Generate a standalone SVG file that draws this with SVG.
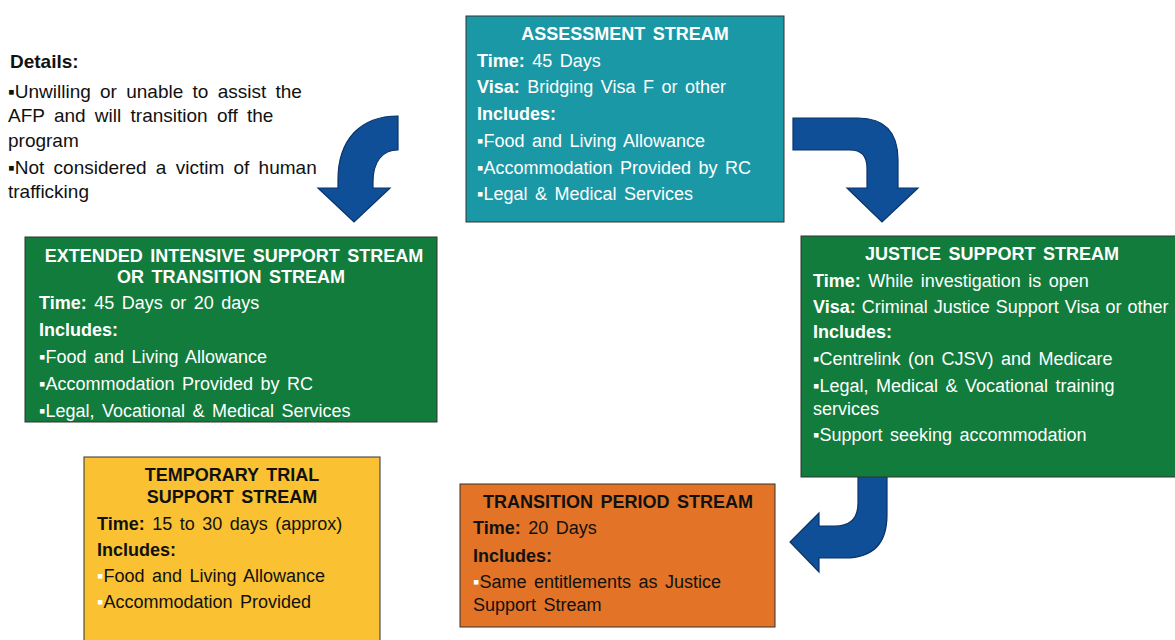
<svg xmlns="http://www.w3.org/2000/svg" width="1175" height="640" viewBox="0 0 1175 640">
<style>
text{font-family:"Liberation Sans",Arial,"DejaVu Sans",sans-serif;font-size:18px;word-spacing:2.5px}
.b{font-weight:bold}
.w{fill:#ffffff}
.k{fill:#111111}
.t{text-anchor:middle;font-weight:bold}
.box{stroke:#333;stroke-width:1}
.arrow{fill:#0E4F98;stroke:#0A3468;stroke-width:1.2}
.det{font-size:19px;fill:#111;word-spacing:4px}
.wb{fill:#ffffff}
</style>
<rect width="1175" height="640" fill="#ffffff"/>

<g id="details">
<text class="det b" x="10" y="68">Details:</text>
<text class="det" x="8" y="98">▪Unwilling  or unable  to assist the</text>
<text class="det" x="8" y="122">AFP and will transition  off the</text>
<text class="det" x="8" y="147">program</text>
<text class="det" x="8" y="174">▪Not considered  a victim of human</text>
<text class="det" x="8" y="198">trafficking</text>
</g>

<g id="connectors">
<path class="arrow" d="M398 116 C360 116 338 140 338 180 V188 H318 L354 222 L390 188 H373 V182 C373 162 382 150 398 150 Z"/>
<path class="arrow" d="M793 118 H858 Q898 118 898 160 V188 H918 L882 222 L847 188 H867 V168 Q867 150 850 150 H793 Z"/>
<path class="arrow" d="M858 470 H887 V515 Q887 558 845 558 H819 V572 L790 542 L819 513 V526 H835 Q858 526 858 503 Z"/>
</g>

<g id="assessment">
<rect class="box" x="466" y="16" width="318" height="206" fill="#1A98A5"/>
<text class="t w" x="625" y="40">ASSESSMENT  STREAM</text>
<text class="w" x="477" y="67"><tspan class="b">Time:</tspan> 45 Days</text>
<text class="w" x="477" y="93"><tspan class="b">Visa:</tspan> Bridging  Visa  F or other</text>
<text class="w b" x="477" y="120">Includes:</text>
<text class="w" x="477" y="147">▪Food and Living  Allowance</text>
<text class="w" x="477" y="174">▪Accommodation  Provided  by RC</text>
<text class="w" x="477" y="200">▪Legal &amp; Medical  Services</text>
</g>

<g id="extended">
<rect class="box" x="25" y="237" width="412" height="185" fill="#117C3C"/>
<text class="t w" x="234" y="262">EXTENDED INTENSIVE SUPPORT STREAM</text>
<text class="t w" x="231" y="283">OR TRANSITION  STREAM</text>
<text class="w" x="39" y="309"><tspan class="b">Time:</tspan> 45 Days or 20 days</text>
<text class="w b" x="39" y="336">Includes:</text>
<text class="w" x="39" y="363">▪Food and Living  Allowance</text>
<text class="w" x="39" y="390">▪Accommodation  Provided by RC</text>
<text class="w" x="39" y="417">▪Legal, Vocational  &amp; Medical Services</text>
</g>

<g id="justice">
<rect class="box" x="801" y="236" width="380" height="241" fill="#117C3C"/>
<text class="t w" x="992" y="260">JUSTICE  SUPPORT  STREAM</text>
<text class="w" x="813" y="287"><tspan class="b">Time:</tspan> While investigation  is open</text>
<text class="w" x="813" y="313" style="word-spacing:1px"><tspan class="b">Visa:</tspan> Criminal  Justice  Support Visa  or other</text>
<text class="w b" x="813" y="338">Includes:</text>
<text class="w" x="813" y="365">▪Centrelink  (on CJSV)  and Medicare</text>
<text class="w" x="813" y="392">▪Legal, Medical &amp; Vocational  training</text>
<text class="w" x="813" y="415">services</text>
<text class="w" x="813" y="441">▪Support  seeking  accommodation</text>
</g>

<g id="temporary">
<rect class="box" x="84" y="457" width="296" height="200" fill="#FAC232"/>
<text class="t k" x="232" y="481">TEMPORARY  TRIAL</text>
<text class="t k" x="232" y="503">SUPPORT  STREAM</text>
<text class="k" x="97" y="530"><tspan class="b">Time:</tspan> 15 to 30 days (approx)</text>
<text class="k b" x="97" y="556">Includes:</text>
<text class="k" x="97" y="582"><tspan class="wb">▪</tspan>Food and Living  Allowance</text>
<text class="k" x="97" y="608"><tspan class="wb">▪</tspan>Accommodation  Provided</text>
</g>

<g id="transition">
<rect class="box" x="460" y="484" width="315" height="143" fill="#E27327"/>
<text class="t k" x="618" y="508">TRANSITION  PERIOD  STREAM</text>
<text class="k" x="473" y="534"><tspan class="b">Time:</tspan> 20 Days</text>
<text class="k b" x="473" y="562">Includes:</text>
<text class="k" x="473" y="588"><tspan class="wb">▪</tspan>Same  entitlements  as Justice</text>
<text class="k" x="473" y="611">Support Stream</text>
</g>
</svg>
